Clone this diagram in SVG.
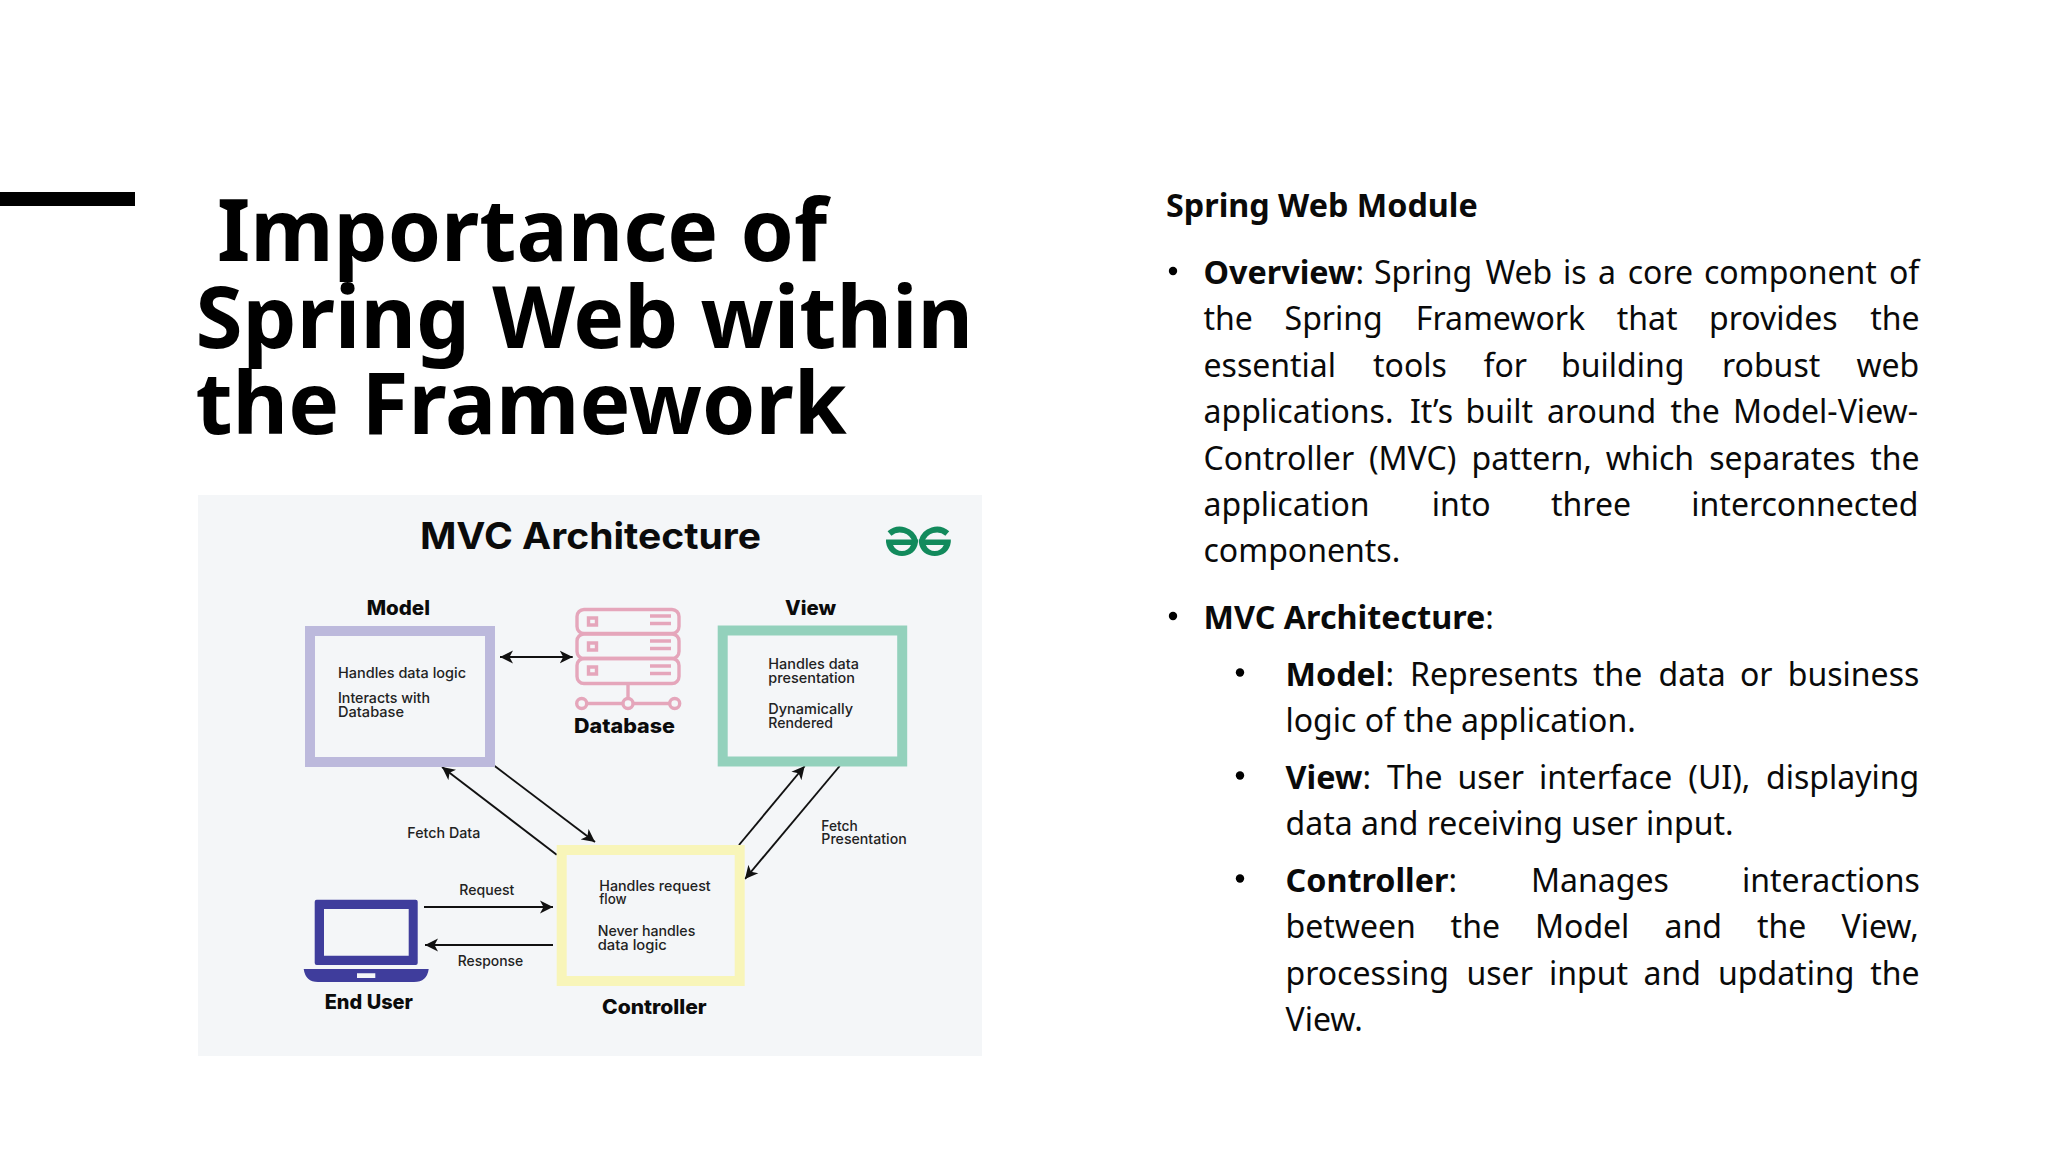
<svg xmlns="http://www.w3.org/2000/svg" width="2048" height="1152" viewBox="0 0 2048 1152">
<style>
.title{font:700 85.5px "Noto Sans",sans-serif;fill:#000}
.body{font:400 32px "Noto Sans",sans-serif;fill:#0a0a0a}
.b{font-weight:700;font-size:32.3px}
.h{font:700 37px Inter,"Noto Sans",sans-serif;fill:#0b0b0b}
.n{font:800 20px Inter,"Noto Sans",sans-serif;fill:#0b0b0b}
.s{font:500 14.5px Inter,"Noto Sans",sans-serif;fill:#222}
.box{fill:none;stroke-width:10}
.conn{fill:none;stroke:#111;stroke-width:1.9}
.db{fill:none;stroke:#e5a6bb;stroke-width:3.4}
.dbc{fill:#f4f6f8;stroke:#e5a6bb;stroke-width:3.4}
</style>
<defs>
<marker id="ah" markerUnits="userSpaceOnUse" markerWidth="14" markerHeight="14" refX="13" refY="7" orient="auto-start-reverse" viewBox="0 0 14 14"><path d="M13 7L0 0.5L3.5 7L0 13.5Z" fill="#111"/></marker>
<g id="halfG"><path d="M889.5 533.5A15.5 15 0 0 1 915 541" fill="none" stroke="#128a5c" stroke-width="5.8"/><path fill-rule="evenodd" d="M886 539.5H918V542C917 551 910 556 902 556C894 556 887 551 886 542ZM893 545C895 549 898 551 902 551C906 551 909 549 911 545Z" fill="#128a5c"/></g>
</defs>
<rect width="2048" height="1152" fill="#fff"/>
<rect id="accent-bar" x="0" y="192" width="135" height="14" fill="#000"/>
<g id="title">
<text class="title" x="217" y="261">Importance of</text>
<text class="title" x="195.5" y="347.5">Spring Web within</text>
<text class="title" x="195.5" y="434">the Framework</text>
</g>
<g id="mvc-figure">
<rect id="panel" x="198" y="495" width="784" height="561" fill="#f4f6f8"/>
<text class="h" x="420" y="549" textLength="341" lengthAdjust="spacingAndGlyphs">MVC Architecture</text>
<g id="logo"><use href="#halfG"/><use href="#halfG" transform="matrix(-1 0 0 1 1836.8 0)"/></g>
</g>
<g id="connectors">
<line class="conn" x1="500" y1="657" x2="572.7" y2="657" marker-start="url(#ah)" marker-end="url(#ah)"/>
<line class="conn" x1="556.7" y1="854.7" x2="442" y2="767" marker-end="url(#ah)"/>
<line class="conn" x1="494.7" y1="766" x2="595" y2="842" marker-end="url(#ah)"/>
<line class="conn" x1="739" y1="845" x2="804.7" y2="766" marker-end="url(#ah)"/>
<line class="conn" x1="839.7" y1="766" x2="745" y2="879" marker-end="url(#ah)"/>
<line class="conn" x1="424" y1="907" x2="553" y2="907" marker-end="url(#ah)"/>
<line class="conn" x1="553" y1="945" x2="425" y2="945" marker-end="url(#ah)"/>
</g>
<g id="node-model">
<rect class="box" x="310" y="631" width="180" height="131" stroke="#bcb9dc"/>
<text class="n" x="366.7" y="615" textLength="63.3" lengthAdjust="spacingAndGlyphs">Model</text>
<text class="s" x="338" y="677.7" textLength="128" lengthAdjust="spacingAndGlyphs">Handles data logic</text>
<text class="s" x="338" y="703.3" textLength="92" lengthAdjust="spacingAndGlyphs">Interacts with</text>
<text class="s" x="338" y="717.3" textLength="66" lengthAdjust="spacingAndGlyphs">Database</text>
</g>
<g id="node-view">
<rect class="box" x="722.7" y="630.5" width="179.5" height="131" stroke="#93d1bc"/>
<text class="n" x="785" y="615" textLength="51" lengthAdjust="spacingAndGlyphs">View</text>
<text class="s" x="768.3" y="669.3" textLength="90.7" lengthAdjust="spacingAndGlyphs">Handles data</text>
<text class="s" x="768.3" y="683.3" textLength="86.7" lengthAdjust="spacingAndGlyphs">presentation</text>
<text class="s" x="768.3" y="714" textLength="84.7" lengthAdjust="spacingAndGlyphs">Dynamically</text>
<text class="s" x="768.3" y="727.7" textLength="64.7" lengthAdjust="spacingAndGlyphs">Rendered</text>
</g>
<g id="node-controller">
<rect class="box" x="561.7" y="850" width="178" height="131" stroke="#f8f5b9"/>
<text class="n" x="602" y="1014.3" textLength="104.7" lengthAdjust="spacingAndGlyphs">Controller</text>
<text class="s" x="599.3" y="890.7" textLength="111.4" lengthAdjust="spacingAndGlyphs">Handles request</text>
<text class="s" x="599.3" y="904.3" textLength="27.4" lengthAdjust="spacingAndGlyphs">flow</text>
<text class="s" x="597.7" y="935.7" textLength="97.6" lengthAdjust="spacingAndGlyphs">Never handles</text>
<text class="s" x="597.7" y="950" textLength="69" lengthAdjust="spacingAndGlyphs">data logic</text>
</g>
<g id="node-database">
<rect class="db" x="577" y="609.5" width="102" height="24" rx="7"/>
<rect class="db" x="577" y="634" width="102" height="24.5" rx="7"/>
<rect class="db" x="577" y="658.5" width="102" height="25" rx="7"/>
<path class="db" d="M588.5 618h8v7h-8zM588.5 643h8v7h-8zM588.5 667h8v7h-8zM650 616h21M650 623.5h21M650 641h21M650 648.5h21M650 666h21M650 673.5h21M628 684v15M585 703.5h87"/>
<circle class="dbc" cx="581.7" cy="703.5" r="5"/>
<circle class="dbc" cx="628" cy="703.5" r="5"/>
<circle class="dbc" cx="674.7" cy="703.5" r="5"/>
<text class="n" x="574" y="733" textLength="101" lengthAdjust="spacingAndGlyphs">Database</text>
</g>
<g id="node-end-user">
<path fill-rule="evenodd" fill="#3f3d9c" d="M316.7 899.7H415.7Q417.7 899.7 417.7 901.7V963Q417.7 965 415.7 965H316.7Q314.7 965 314.7 963V901.7Q314.7 899.7 316.7 899.7ZM324 909V955.7H408.7V909Z"/>
<path fill-rule="evenodd" fill="#3f3d9c" d="M303.7 969H428.7Q427 982 414 982H318Q305.5 982 303.7 969ZM357 973.3V978H375.3V973.3Z"/>
<text class="n" x="324.7" y="1008.7" textLength="88.3" lengthAdjust="spacingAndGlyphs">End User</text>
</g>
<g id="edge-labels">
<text class="s" x="407.3" y="838" textLength="73" lengthAdjust="spacingAndGlyphs">Fetch Data</text>
<text class="s" x="459.3" y="895" textLength="55" lengthAdjust="spacingAndGlyphs">Request</text>
<text class="s" x="457.7" y="965.7" textLength="65.6" lengthAdjust="spacingAndGlyphs">Response</text>
<text class="s" x="821.3" y="830.7" textLength="36.4" lengthAdjust="spacingAndGlyphs">Fetch</text>
<text class="s" x="821.3" y="844.3" textLength="85.4" lengthAdjust="spacingAndGlyphs">Presentation</text>
</g>
<g id="body-text">
<text class="body b" x="1166" y="216.5">Spring Web Module</text>
<circle cx="1173" cy="271" r="4.2"/>
<text class="body" y="283.5"><tspan class="b" x="1203.5">Overview</tspan><tspan>: </tspan><tspan x="1374">Spring </tspan><tspan x="1485.4">Web </tspan><tspan x="1563">is </tspan><tspan x="1598">a </tspan><tspan x="1627.7">core </tspan><tspan x="1704">component </tspan><tspan x="1889">of</tspan></text>
<text class="body" y="330"><tspan x="1203.5">the </tspan><tspan x="1284.6">Spring </tspan><tspan x="1415.8">Framework </tspan><tspan x="1616.7">that </tspan><tspan x="1709">provides </tspan><tspan x="1870.3">the</tspan></text>
<text class="body" y="376.5"><tspan x="1203.5">essential </tspan><tspan x="1373">tools </tspan><tspan x="1483.5">for </tspan><tspan x="1561">building </tspan><tspan x="1722">robust </tspan><tspan x="1856.4">web</tspan></text>
<text class="body" y="423"><tspan x="1203.5">applications. </tspan><tspan x="1410">It’s </tspan><tspan x="1465.6">built </tspan><tspan x="1547">around </tspan><tspan x="1670.4">the </tspan><tspan x="1733">Model-View-</tspan></text>
<text class="body" y="469.5"><tspan x="1203.5">Controller </tspan><tspan x="1369">(MVC) </tspan><tspan x="1471.5">pattern, </tspan><tspan x="1605.8">which </tspan><tspan x="1709.2">separates </tspan><tspan x="1870.3">the</tspan></text>
<text class="body" y="516"><tspan x="1203.5">application </tspan><tspan x="1431.7">into </tspan><tspan x="1551">three </tspan><tspan x="1691.3">interconnected</tspan></text>
<text class="body" x="1203.5" y="562">components.</text>
<circle cx="1173" cy="616" r="4.2"/>
<text class="body" y="628.5"><tspan class="b" x="1203.5">MVC Architecture</tspan><tspan>:</tspan></text>
<circle cx="1240" cy="672.5" r="4.2"/>
<text class="body" y="685.5"><tspan class="b" x="1285.5">Model</tspan><tspan>: </tspan><tspan x="1410">Represents </tspan><tspan x="1593">the </tspan><tspan x="1658.5">data </tspan><tspan x="1740">or </tspan><tspan x="1787.8">business</tspan></text>
<text class="body" x="1285.5" y="732">logic of the application.</text>
<circle cx="1240" cy="775.5" r="4.2"/>
<text class="body" y="788.5"><tspan class="b" x="1285.5">View</tspan><tspan>: </tspan><tspan x="1387">The </tspan><tspan x="1457.6">user </tspan><tspan x="1539">interface </tspan><tspan x="1688.3">(UI), </tspan><tspan x="1766">displaying</tspan></text>
<text class="body" x="1285.5" y="835">data and receiving user input.</text>
<circle cx="1240" cy="878.5" r="4.2"/>
<text class="body" y="891.5"><tspan class="b" x="1285.5">Controller</tspan><tspan>: </tspan><tspan x="1531">Manages </tspan><tspan x="1742">interactions</tspan></text>
<text class="body" y="938"><tspan x="1285.5">between </tspan><tspan x="1450.6">the </tspan><tspan x="1535">Model </tspan><tspan x="1664.5">and </tspan><tspan x="1757">the </tspan><tspan x="1841.5">View,</tspan></text>
<text class="body" y="984.5"><tspan x="1285.5">processing </tspan><tspan x="1466.5">user </tspan><tspan x="1549">input </tspan><tspan x="1643.6">and </tspan><tspan x="1718">updating </tspan><tspan x="1870.3">the</tspan></text>
<text class="body" x="1285.5" y="1030.5">View.</text>
</g>
</svg>
